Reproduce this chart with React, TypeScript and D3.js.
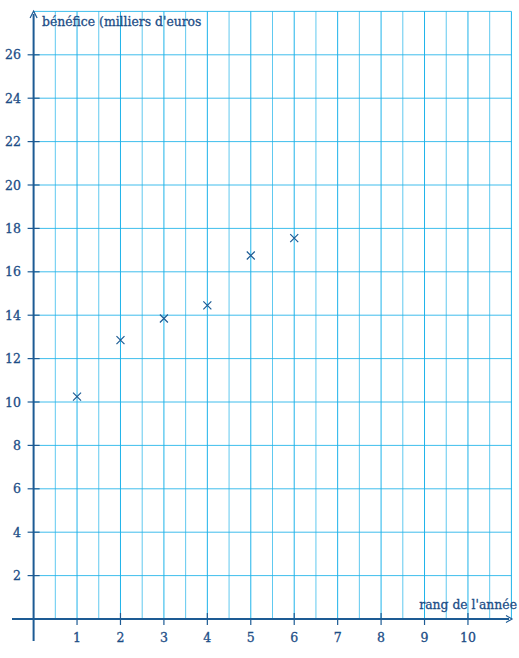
import React from "react";
import * as d3 from "d3";

const years = [1, 2, 3, 4, 5, 6];
const profits = [10.25, 12.85, 13.85, 14.45, 16.75, 17.55];
const xTicks = [1, 2, 3, 4, 5, 6, 7, 8, 9, 10];
const yTicks = [2, 4, 6, 8, 10, 12, 14, 16, 18, 20, 22, 24, 26];
const yLabel = "bénéfice (milliers d'euros";
const xLabel = "rang de l'année";

const W = 519;
const H = 658;
const FONT = "DejaVu Serif";
const GRID = "#1eb3ea";
const AXIS = "#1d5b94";
const TEXT = "#1c4d86";

export default function App() {
  const x = d3.scaleLinear().domain([0, 11]).range([33.6, 511.4]);
  const y = d3.scaleLinear().domain([0, 28]).range([619, 11.4]);
  const vLines = d3.range(1, 23).map((i) => i * 0.5);
  const hLines = d3.range(2, 29, 2);
  const ox = x(0);
  const oy = y(0);
  const cross = 4;
  return (
    <svg width={W} height={H} style={{ position: "absolute", left: 0, top: 0 }}>
      <rect width={W} height={H} fill="#fff" />
      {vLines.map((v) => (
        <line key={"v" + v} x1={x(v)} x2={x(v)} y1={y(0)} y2={y(28)} stroke={GRID} strokeWidth={1} opacity={Number.isInteger(v) ? 1 : 0.7} />
      ))}
      {hLines.map((v) => (
        <line key={"h" + v} x1={x(0)} x2={x(11)} y1={y(v)} y2={y(v)} stroke={GRID} strokeWidth={1} opacity={0.85} />
      ))}
      {/* axes */}
      <line x1={12} x2={509} y1={oy} y2={oy} stroke={AXIS} strokeWidth={2} />
      <path d={`M${506},${oy - 3.5} L${512},${oy} L${506},${oy + 3.5}`} fill="none" stroke={AXIS} strokeWidth={1.2} />
      <line x1={ox} x2={ox} y1={641} y2={14} stroke={AXIS} strokeWidth={2} />
      <path d={`M${ox - 3.5},${18} L${ox},${11} L${ox + 3.5},${18}`} fill="none" stroke={AXIS} strokeWidth={1.2} />
      {xTicks.map((t) => (
        <g key={"xt" + t}>
          <line x1={x(t)} x2={x(t)} y1={t % 2 === 0 ? oy - 6 : oy} y2={oy + 6} stroke={AXIS} strokeWidth={1.2} />
          <text x={x(t)} y={642} textAnchor="middle" fontFamily={FONT} fontSize={12.5} fill={TEXT} stroke={TEXT} strokeWidth={0.3}>{t}</text>
        </g>
      ))}
      {yTicks.map((t) => (
        <g key={"yt" + t}>
          <line x1={ox - 6} x2={ox + 6} y1={y(t)} y2={y(t)} stroke={AXIS} strokeWidth={1.2} />
          <text x={21} y={y(t) + 4.5} textAnchor="end" fontFamily={FONT} fontSize={12.5} fill={TEXT} stroke={TEXT} strokeWidth={0.3}>{t}</text>
        </g>
      ))}
      <text x={42} y={26} fontFamily={FONT} fontSize={12.4} fill={TEXT} stroke={TEXT} strokeWidth={0.3}>{yLabel}</text>
      <text x={517} y={609} textAnchor="end" fontFamily={FONT} fontSize={12.4} fill={TEXT} stroke={TEXT} strokeWidth={0.3}>{xLabel}</text>
      {years.map((yr, i) => (
        <path key={"p" + yr}
          d={`M${x(yr) - cross},${y(profits[i]) - cross} L${x(yr) + cross},${y(profits[i]) + cross} M${x(yr) - cross},${y(profits[i]) + cross} L${x(yr) + cross},${y(profits[i]) - cross}`}
          stroke={AXIS} strokeWidth={1.2} fill="none" />
      ))}
    </svg>
  );
}
